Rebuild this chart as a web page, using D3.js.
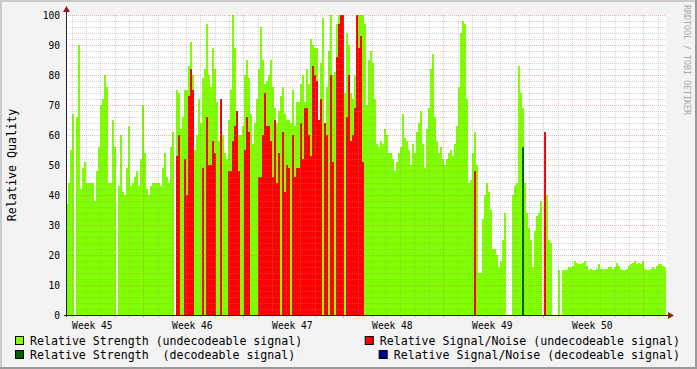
<!DOCTYPE html>
<html>
<head>
<meta charset="utf-8">
<script src="https://cdn.jsdelivr.net/npm/d3@7"></script>
<style>
  body { margin: 0; background: #f3f3f3; }
  svg text { font-family: 'DejaVu Sans Mono', monospace; }
</style>
</head>
<body>
<div id="chart"></div>
<script>
// samples: one value every 3.36 hours, starting Nov 4 2008 14:05 UTC
var START = Date.UTC(2008, 10, 4, 14, 5);
var STEP  = 12096 * 1000;

// relative strength, undecodeable signal (null = no data)
var strengthUndec = [
    37, 44, 55, 67, null, 66, 90, 42, 49, 51,
    44, 44, 44, 44, 38, 48, 56, 70, 72, 80,
    76, 44, 44, 65, 56, null, 43, 60, 41, 40,
    49, 63, 43, 44, 46, 48, 43, 52, 70, 54,
    42, 40, 43, 44, 44, 44, 44, 43, 49, 54,
    46, 44, 56, 61, null, 75, 74, 62, 66, 75,
    75, 83, 91, 80, 55, 60, 72, 64, 79, 82,
    97, 80, 76, 89, 82, 71, 58, 63, 60, 54,
    52, 65, 75, 100, 89, 68, 60, 60, 63, 80,
    85, 79, 67, 57, 64, 72, 82, 96, 85, 77,
    78, 80, 85, 76, 69, 64, 68, 73, 76, 67,
    65, 65, 64, 75, 63, 71, 71, 77, 80, 71,
    82, 77, 92, 90, 89, 89, 62, 84, 99, 64,
    76, 88, 100, 80, 81, 97, 100, 100, 100, 74,
    94, 90, 74, 72, 80, 100, 100, 100, 100, 97,
    70, 85, 88, 84, 72, 57, 56, 58, 57, 62,
    60, 54, 54, 52, 48, 51, 54, 56, 67, 59,
    58, 55, 50, 57, 54, 61, 64, 68, 57, 49,
    62, 69, 82, 87, 66, 58, 54, 56, 52, 50,
    52, 54, 55, 53, 57, 63, 76, 94, 98, 97,
    72, 44, 45, 54, 61, 50, 14, 14, 32, 40,
    44, 41, 35, 22, 22, 20, 16, 18, 25, 34,
    null, null, null, 40, 43, 44, 83, 74, 69, 44,
    34, 29, 25, 16, 28, 33, 34, 38, null, null,
    40, 25, 24, null, null, null, 15, null, 15, 15,
    15, 16, 16, 16.5, 18, 17.5, 17, 17, 17.5, 18,
    16.5, 15, 15.5, 15, 15, 15.5, 17, 15.5, 15.5, 15.5,
    15.5, 16, 16, 15.5, 16, 17.5, 16.5, 15.5, 15, 15,
    15.5, 16.5, 17, 17.5, 18, 17, 17.5, 17, 18, 15.5,
    15, 15, 15.5, 16, 15.5, 16.5, 17, 17, 16.5, 16
];

// relative signal/noise, undecodeable signal
var snrUndec = [
    0, 0, 0, 0, 0, 0, 0, 0, 0, 0,
    0, 0, 0, 0, 0, 0, 0, 0, 0, 0,
    0, 0, 0, 0, 0, 0, 0, 0, 0, 0,
    0, 0, 0, 0, 0, 0, 0, 0, 0, 0,
    0, 0, 0, 0, 0, 0, 0, 0, 0, 0,
    0, 0, 0, 0, 0, 53, 60, 0, 0, 52,
    40, 73, 82, 75, 0, 0, 0, 0, 49, 0,
    66, 50, 50, 58, 54, 0, 0, 72, 0, 0,
    0, 48, 48, 58, 63, 68, 48, 0, 0, 55,
    66, 61, 0, 0, 0, 0, 46, 46, 60, 74,
    63, 63, 58, 46, 65, 44, 54, 0, 61, 41,
    50, 49, 0, 60, 46, 49, 49, 64, 52, 69,
    69, 60, 53, 83, 80, 78, 65, 72, 0, 64,
    60, 0, 80, 51, 0, 86, 97, 100, 100, 0,
    66, 80, 58, 60, 69, 100, 89, 93, 51, 0,
    0, 0, 0, 0, 0, 0, 0, 0, 0, 0,
    0, 0, 0, 0, 0, 0, 0, 0, 0, 0,
    0, 0, 0, 0, 0, 0, 0, 0, 0, 0,
    0, 0, 0, 0, 0, 0, 0, 0, 0, 0,
    0, 0, 0, 0, 0, 0, 0, 0, 0, 0,
    0, 0, 0, 0, 48, 0, 0, 0, 0, 0,
    0, 0, 0, 0, 0, 0, 0, 0, 0, 0,
    0, 0, 0, 0, 0, 0, 0, 0, 50, 0,
    0, 0, 0, 0, 0, 0, 0, 0, 0, 61,
    0, 0, 0, 0, 0, 0, 0, 0, 0, 0,
    0, 0, 0, 0, 0, 0, 0, 0, 0, 0,
    0, 0, 0, 0, 0, 0, 0, 0, 0, 0,
    0, 0, 0, 0, 0, 0, 0, 0, 0, 0,
    0, 0, 0, 0, 0, 0, 0, 0, 0, 0,
    0, 0, 0, 0, 0, 0, 0, 0, 0, 0
];

// the few samples where the signal could be decoded
var decodedAt       = [228];
var strengthDecoded = [56];
var snrDecoded      = [0];

var yTicks       = [0, 10, 20, 30, 40, 50, 60, 70, 80, 90, 100];
var legendLabels = [
    'Relative Strength (undecodeable signal)',
    'Relative Signal/Noise (undecodeable signal)',
    'Relative Strength  (decodeable signal)',
    'Relative Signal/Noise (decodeable signal)'
];

var WIDTH = 697, HEIGHT = 369;
var PLOT = { left : 66, right : 666, top : 15, bottom : 315 };
var GREEN = '#80ff00', RED = '#ff0000', DARKGREEN = '#006400', BLUE = '#000090';
var GRID = 'rgba(150,150,150,0.4)', MGRID = 'rgba(200,100,100,0.45)';
var AXIS = '#202030', ARROW = '#8b1c1c';

var times = strengthUndec.map(function(d, i) { return new Date(START + i * STEP); });
var end = new Date(START + strengthUndec.length * STEP);

var x = d3.scaleUtc().domain([new Date(START), end]).range([PLOT.left, PLOT.right]);
var y = d3.scaleLinear().domain([0, 100]).range([PLOT.bottom, PLOT.top]);

var svg = d3.select('#chart').append('svg')
    .attr('width', WIDTH)
    .attr('height', HEIGHT);

// background and 3d-ish frame
svg.append('rect').attr('width', WIDTH).attr('height', HEIGHT).attr('fill', '#f3f3f3');
svg.append('path').attr('d', 'M0,1H' + WIDTH + 'M1,0V' + HEIGHT)
    .attr('stroke', '#cbcbcb').attr('stroke-width', 2);
svg.append('path').attr('d', 'M0,' + (HEIGHT - 1) + 'H' + WIDTH + 'M' + (WIDTH - 1) + ',0V' + HEIGHT)
    .attr('stroke', '#999999').attr('stroke-width', 2);

// plot canvas
svg.append('rect')
    .attr('x', PLOT.left).attr('y', PLOT.top)
    .attr('width', PLOT.right - PLOT.left).attr('height', PLOT.bottom - PLOT.top)
    .attr('fill', '#ffffff');

// draw one area series as 1-step columns
function drawSeries(values, index, color) {
    svg.append('g')
        .attr('shape-rendering', 'crispEdges')
        .selectAll('rect')
        .data(values.map(function(v, i) { return { v : v, i : index ? index[i] : i }; })
                    .filter(function(d) { return d.v != null && d.v > 0; }))
        .enter()
        .append('rect')
        .attr('x', function(d) { return x(times[d.i]); })
        .attr('width', function(d) { return x(new Date(+times[d.i] + STEP)) - x(times[d.i]); })
        .attr('y', function(d) { return y(d.v); })
        .attr('height', function(d) { return y(0) - y(d.v); })
        .attr('fill', color);
}

drawSeries(strengthUndec, null, GREEN);
drawSeries(snrUndec, null, RED);
drawSeries(strengthDecoded, decodedAt, DARKGREEN);
drawSeries(snrDecoded, decodedAt, BLUE);

// grid lines on top of the data
var grid = svg.append('g').attr('shape-rendering', 'crispEdges').attr('stroke-dasharray', '1,1');
var days = x.ticks(d3.utcDay.every(1));
var weeks = x.ticks(d3.utcMonday.every(1));
var isWeek = function(t) { return weeks.some(function(w) { return +w === +t; }); };

grid.selectAll('.vminor')
    .data(days.filter(function(t) { return !isWeek(t); }))
    .enter().append('line')
    .attr('x1', function(d) { return Math.round(x(d)) + 0.5; })
    .attr('x2', function(d) { return Math.round(x(d)) + 0.5; })
    .attr('y1', PLOT.top).attr('y2', PLOT.bottom)
    .attr('stroke', GRID);

grid.selectAll('.hminor')
    .data(d3.range(2, 101, 2).filter(function(v) { return v % 10 !== 0; }))
    .enter().append('line')
    .attr('x1', PLOT.left).attr('x2', PLOT.right)
    .attr('y1', function(d) { return Math.round(y(d)) + 0.5; })
    .attr('y2', function(d) { return Math.round(y(d)) + 0.5; })
    .attr('stroke', GRID);

grid.selectAll('.vmajor')
    .data(weeks)
    .enter().append('line')
    .attr('x1', function(d) { return Math.round(x(d)) + 0.5; })
    .attr('x2', function(d) { return Math.round(x(d)) + 0.5; })
    .attr('y1', PLOT.top).attr('y2', PLOT.bottom)
    .attr('stroke', MGRID);

grid.selectAll('.hmajor')
    .data(yTicks.slice(1))
    .enter().append('line')
    .attr('x1', PLOT.left).attr('x2', PLOT.right)
    .attr('y1', function(d) { return Math.round(y(d)) + 0.5; })
    .attr('y2', function(d) { return Math.round(y(d)) + 0.5; })
    .attr('stroke', MGRID);

// axes with arrows
svg.append('line')
    .attr('x1', PLOT.left - 2).attr('x2', PLOT.right + 3)
    .attr('y1', PLOT.bottom + 0.5).attr('y2', PLOT.bottom + 0.5)
    .attr('stroke', AXIS);
svg.append('line')
    .attr('x1', PLOT.left + 0.5).attr('x2', PLOT.left + 0.5)
    .attr('y1', PLOT.bottom + 2).attr('y2', PLOT.top - 3)
    .attr('stroke', AXIS);
svg.append('path')
    .attr('d', 'M' + (PLOT.right + 2) + ',' + (PLOT.bottom - 3) + 'l6,3.5l-6,3.5Z')
    .attr('fill', ARROW);
svg.append('path')
    .attr('d', 'M' + (PLOT.left - 3) + ',' + (PLOT.top - 3) + 'l3.5,-6l3.5,6Z')
    .attr('fill', ARROW);

// small ticks under the x axis
svg.selectAll('.xtick')
    .data(days)
    .enter().append('line')
    .attr('x1', function(d) { return Math.round(x(d)) + 0.5; })
    .attr('x2', function(d) { return Math.round(x(d)) + 0.5; })
    .attr('y1', PLOT.bottom + 1).attr('y2', PLOT.bottom + 3)
    .attr('stroke', function(d) { return isWeek(d) ? MGRID : GRID; });

// y tick labels
svg.selectAll('.ylabel')
    .data(yTicks)
    .enter().append('text')
    .attr('x', PLOT.left - 6)
    .attr('y', function(d) { return y(d) + 3.5; })
    .attr('text-anchor', 'end')
    .attr('font-size', '9.6px')
    .attr('fill', '#000')
    .text(function(d) { return d; });

// week labels, centred in each week
var fmtWeek = d3.utcFormat('Week %V');
svg.selectAll('.xlabel')
    .data([new Date(Date.UTC(2008, 10, 3))].concat(weeks))
    .enter().append('text')
    .attr('x', function(d) { return x(new Date(+d + 3.5 * 864e5)) - 1; })
    .attr('y', PLOT.bottom + 14)
    .attr('text-anchor', 'middle')
    .attr('font-size', '9.6px')
    .attr('fill', '#000')
    .text(function(d) { return fmtWeek(d); })
    .filter(function(d) { return x(new Date(+d + 3.5 * 864e5)) > PLOT.right; }).remove();

// vertical axis title
svg.append('text')
    .attr('transform', 'translate(16,' + ((PLOT.top + PLOT.bottom) / 2) + ') rotate(-90)')
    .attr('text-anchor', 'middle')
    .attr('font-size', '11.7px')
    .attr('fill', '#000')
    .text('Relative Quality');

// watermark
svg.append('text')
    .attr('transform', 'translate(684,5) rotate(90)')
    .attr('font-size', '8.3px')
    .attr('fill', '#a8a8a8')
    .text('RRDTOOL / TOBI OETIKER');

// legend, two per row: left item left-aligned, right item right-aligned
var legend = [
    { label : legendLabels[0], color : GREEN,     row : 0, right : false },
    { label : legendLabels[1], color : RED,       row : 0, right : true  },
    { label : legendLabels[2], color : DARKGREEN, row : 1, right : false },
    { label : legendLabels[3], color : BLUE,      row : 1, right : true  }
];
var CHAR_W = 11.6 * 0.602;
legend.forEach(function(d) {
    var textX = d.right ? 680 - d.label.length * CHAR_W : 30;
    var base = 345 + d.row * 14;
    svg.append('rect')
        .attr('x', textX - 14.5).attr('y', base - 8.5)
        .attr('width', 8).attr('height', 8)
        .attr('fill', d.color)
        .attr('stroke', '#000');
    svg.append('text')
        .attr('x', textX).attr('y', base)
        .attr('font-size', '11.6px')
        .attr('fill', '#000')
        .attr('xml:space', 'preserve')
        .style('white-space', 'pre')
        .text(d.label);
});
</script>
</body>
</html>
